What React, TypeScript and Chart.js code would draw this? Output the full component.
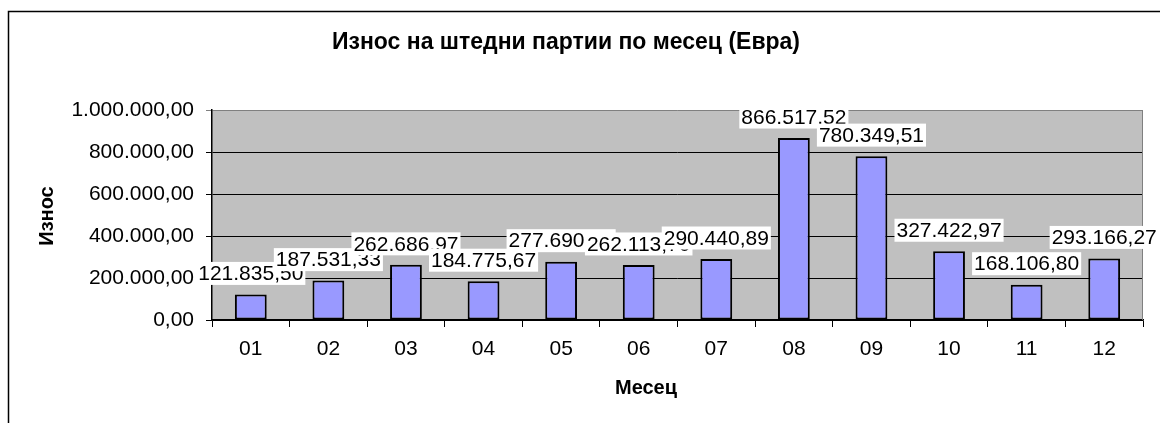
import React, { useEffect, useRef } from "react";
import { Chart, registerables } from "chart.js";

Chart.register(...registerables);

const TITLE = "Износ на штедни партии по месец (Евра)";
const X_TITLE = "Месец";
const Y_TITLE = "Износ";
const months = ["01", "02", "03", "04", "05", "06", "07", "08", "09", "10", "11", "12"];
const values = [
  121835.5, 187531.33, 262686.97, 184775.67, 277690.45, 262113.7,
  290440.89, 866517.52, 780349.51, 327422.97, 168106.8, 293166.27,
];
const yMin = 0;
const yMax = 1000000;
const yStep = 200000;

const FONT = "'Liberation Sans', Arial, sans-serif";

function fmt(v: number): string {
  const [i, d] = v.toFixed(2).split(".");
  return i.replace(/\B(?=(\d{3})+(?!\d))/g, ".") + "," + d;
}

const framePlugin = {
  id: "frame",
  beforeDraw(chart: any) {
    const { ctx, chartArea: a, width, height } = chart;
    ctx.save();
    ctx.fillStyle = "#ffffff";
    ctx.fillRect(0, 0, width, height);
    ctx.strokeStyle = "#000";
    ctx.lineWidth = 1.5;
    ctx.beginPath();
    ctx.moveTo(8.5, height + 2);
    ctx.lineTo(8.5, 11.5);
    ctx.lineTo(width + 2, 11.5);
    ctx.stroke();
    ctx.fillStyle = "#C0C0C0";
    ctx.fillRect(a.left, a.top, a.right - a.left, a.bottom - a.top);
    ctx.restore();
  },
  beforeDatasetsDraw(chart: any) {
    const { ctx, chartArea: a } = chart;
    ctx.save();
    ctx.strokeStyle = "#808080";
    ctx.lineWidth = 1;
    ctx.beginPath();
    ctx.moveTo(a.right - 0.5, a.top);
    ctx.lineTo(a.right - 0.5, a.bottom);
    ctx.stroke();
    ctx.restore();
  },
  afterDraw(chart: any) {
    const { ctx } = chart;
    ctx.save();
    ctx.fillStyle = "#000";
    ctx.textAlign = "center";
    ctx.textBaseline = "middle";
    ctx.font = `bold 23px ${FONT}`;
    ctx.fillText(TITLE, 566, 43);
    ctx.font = `bold 20px ${FONT}`;
    ctx.fillText(X_TITLE, 646, 388);
    ctx.translate(47, 216);
    ctx.rotate(-Math.PI / 2);
    ctx.fillText(Y_TITLE, 0, 0);
    ctx.restore();
  },
};

const labelPlugin = {
  id: "valueLabels",
  afterDatasetsDraw(chart: any) {
    const { ctx } = chart;
    const meta = chart.getDatasetMeta(0);
    ctx.save();
    ctx.font = `21px ${FONT}`;
    ctx.textAlign = "center";
    ctx.textBaseline = "middle";
    meta.data.forEach((el: any, i: number) => {
      const text = fmt(values[i]);
      const w = ctx.measureText(text).width + 4;
      const cy = el.y - 21;
      ctx.fillStyle = "#ffffff";
      ctx.fillRect(el.x - w / 2, cy - 11.5, w, 23);
      ctx.fillStyle = "#000";
      ctx.fillText(text, el.x, cy + 1);
    });
    ctx.restore();
  },
};

export default function App() {
  const ref = useRef<HTMLCanvasElement>(null);
  useEffect(() => {
    if (!ref.current) return;
    const chart = new Chart(ref.current, {
      type: "bar",
      data: {
        labels: months,
        datasets: [
          {
            data: values,
            backgroundColor: "#9999FF",
            borderColor: "#000000",
            borderWidth: 2,
            borderSkipped: false,
            barPercentage: 0.41,
            categoryPercentage: 1,
          },
        ],
      },
      options: {
        animation: false,
        responsive: false,
        layout: { padding: { top: 110, right: 17, left: 0, bottom: 0 } },
        plugins: {
          legend: { display: false },
          title: { display: false },
          tooltip: { enabled: false },
        },
        scales: {
          x: {
            offset: true,
            afterFit: (s: any) => {
              s.height = 103;
            },
            grid: {
              offset: true,
              drawOnChartArea: false,
              drawTicks: true,
              tickLength: 7,
              color: "#000",
            },
            border: { color: "#000", width: 1.5 },
            ticks: {
              color: "#000",
              font: { family: FONT, size: 21 },
              padding: 10,
              maxRotation: 0,
            },
          },
          y: {
            min: yMin,
            max: yMax,
            afterFit: (s: any) => {
              s.width = 212;
            },
            grid: {
              color: (c: any) => (c.tick && c.tick.value === yMax ? "#808080" : "#000"),
              lineWidth: 1,
              tickLength: 6,
            },
            border: { color: "#000", width: 1.5 },
            ticks: {
              stepSize: yStep,
              color: "#000",
              font: { family: FONT, size: 21 },
              padding: 12,
              callback: (v: any) => fmt(Number(v)),
            },
          },
        },
      },
      plugins: [framePlugin, labelPlugin],
    });
    return () => chart.destroy();
  }, []);
  return (
    <canvas
      ref={ref}
      width={1160}
      height={423}
      style={{ position: "fixed", left: 0, top: 0, width: 1160, height: 423 }}
    />
  );
}
